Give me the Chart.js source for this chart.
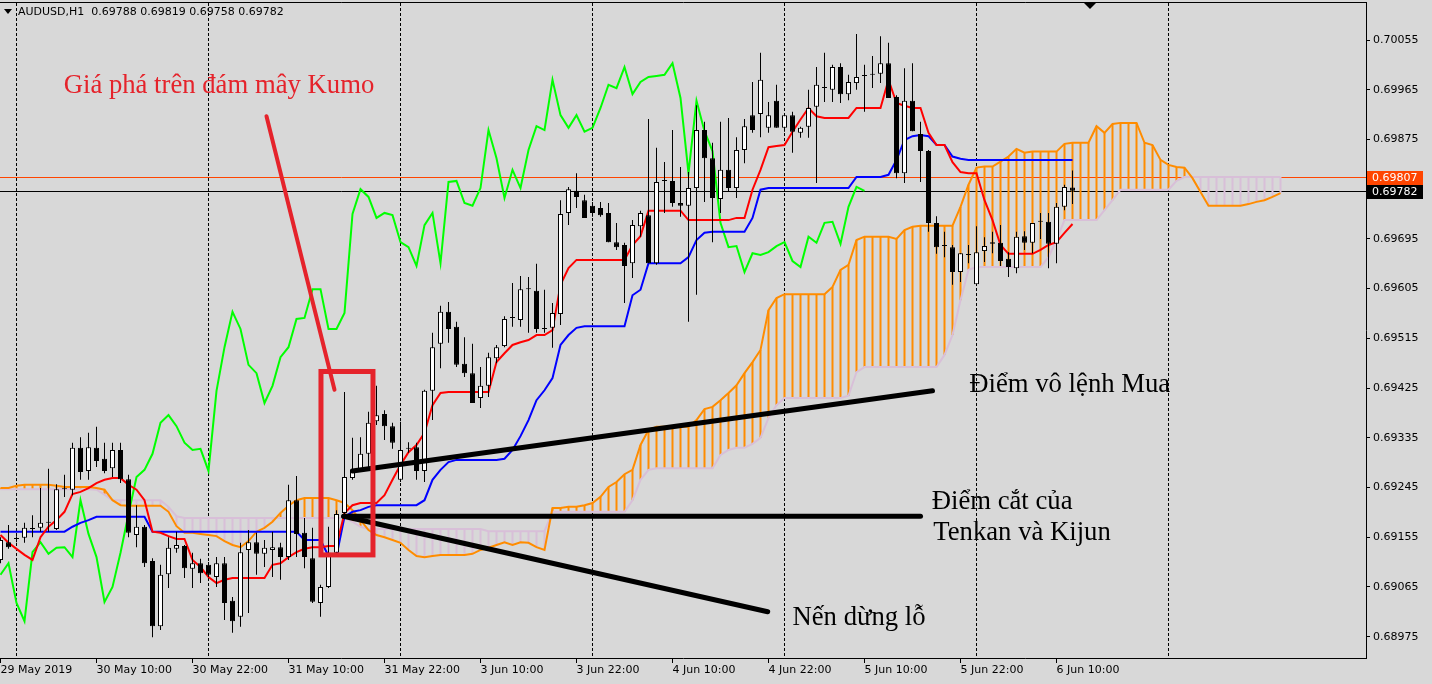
<!DOCTYPE html>
<html>
<head>
<meta charset="utf-8">
<title>AUDUSD H1 Ichimoku</title>
<script src="https://cdn.jsdelivr.net/npm/chart.js@4.4.0/dist/chart.umd.min.js"></script>
<style>
  html, body { margin: 0; padding: 0; background: #d8d8d8; overflow: hidden; }
  #c { display: block; }
</style>
</head>
<body>
<canvas id="c" width="1432" height="684"></canvas>
<script>
"use strict";

// ---- candles (H1), bar 0 = 29 May 22:00 ----
const open = [0.69114,0.69146,0.69152,0.69154,0.69170,0.69172,0.69181,0.69170,0.69242,0.69241,
  0.69317,0.69275,0.69317,0.69297,0.69280,0.69313,0.69260,0.69159,0.69174,0.69112,
  0.68994,0.69088,0.69134,0.69139,0.69098,0.69108,0.69105,0.69083,0.69108,0.69040,
  0.69011,0.69132,0.69146,0.69125,0.69132,0.69137,0.69119,0.69222,0.69163,0.69117,
  0.69036,0.69065,0.69127,0.69199,0.69262,0.69277,0.69306,0.69365,0.69378,0.69356,
  0.69259,0.69315,0.69318,0.69275,0.69420,0.69505,0.69563,0.69536,0.69469,0.69452,
  0.69407,0.69429,0.69479,0.69501,0.69552,0.69548,0.69604,0.69601,0.69532,0.69534,
  0.69559,0.69742,0.69782,0.69765,0.69755,0.69751,0.69742,0.69689,0.69684,0.69651,
  0.69718,0.69738,0.69651,0.69800,0.69800,0.69760,0.69755,0.69787,0.69892,0.69841,
  0.69767,0.69820,0.69787,0.69856,0.69919,0.69921,0.69896,0.69945,0.69896,0.69919,
  0.69887,0.69898,0.69934,0.69968,0.69965,0.70006,0.69957,0.69977,0.69990,0.69992,
  0.69994,0.70013,0.69952,0.69814,0.69945,0.69885,0.69854,0.69724,0.69682,0.69680,
  0.69635,0.69666,0.69613,0.69673,0.69686,0.69688,0.69659,0.69642,0.69700,0.69688,
  0.69726,0.69726,0.69686,0.69753,0.69788];
const high = [0.69155,0.69177,0.69157,0.69181,0.69195,0.69244,0.69279,0.69251,0.69268,0.69326,
  0.69336,0.69344,0.69355,0.69326,0.69326,0.69326,0.69268,0.69213,0.69177,0.69117,
  0.69105,0.69155,0.69165,0.69141,0.69127,0.69116,0.69110,0.69119,0.69119,0.69047,
  0.69145,0.69168,0.69163,0.69150,0.69165,0.69145,0.69250,0.69266,0.69190,0.69172,
  0.69069,0.69174,0.69204,0.69418,0.69335,0.69336,0.69382,0.69429,0.69385,0.69362,
  0.69364,0.69327,0.69326,0.69422,0.69525,0.69574,0.69581,0.69545,0.69517,0.69505,
  0.69463,0.69489,0.69503,0.69555,0.69615,0.69628,0.69626,0.69650,0.69603,0.69579,
  0.69765,0.69789,0.69814,0.69775,0.69762,0.69762,0.69760,0.69724,0.69688,0.69729,
  0.69746,0.69912,0.69860,0.69834,0.69892,0.69825,0.69816,0.69937,0.69907,0.69869,
  0.69907,0.69914,0.69879,0.69912,0.69979,0.70032,0.69943,0.69974,0.69923,0.69925,
  0.69898,0.69965,0.70006,0.70032,0.70010,0.70013,0.69992,0.70066,0.70010,0.70026,
  0.70062,0.70050,0.69955,0.70004,0.70013,0.69907,0.69856,0.69736,0.69708,0.69684,
  0.69669,0.69684,0.69718,0.69698,0.69708,0.69720,0.69671,0.69708,0.69709,0.69722,
  0.69742,0.69742,0.69760,0.69793,0.69819];
const low = [0.69108,0.69134,0.69146,0.69145,0.69155,0.69165,0.69165,0.69168,0.69228,0.69231,
  0.69259,0.69259,0.69282,0.69271,0.69264,0.69253,0.69155,0.69137,0.69101,0.68974,
  0.68987,0.69063,0.69127,0.69081,0.69063,0.69072,0.69083,0.69065,0.69005,0.68982,
  0.68993,0.69018,0.69087,0.69101,0.69083,0.69078,0.69114,0.69119,0.69099,0.69036,
  0.69011,0.69063,0.69123,0.69195,0.69259,0.69273,0.69282,0.69358,0.69331,0.69315,
  0.69255,0.69308,0.69259,0.69255,0.69367,0.69461,0.69507,0.69463,0.69445,0.69398,
  0.69389,0.69409,0.69470,0.69499,0.69536,0.69536,0.69525,0.69525,0.69525,0.69498,
  0.69539,0.69720,0.69751,0.69733,0.69735,0.69735,0.69689,0.69675,0.69579,0.69624,
  0.69699,0.69651,0.69648,0.69742,0.69753,0.69735,0.69545,0.69594,0.69762,0.69689,
  0.69742,0.69780,0.69769,0.69832,0.69887,0.69879,0.69887,0.69896,0.69889,0.69851,
  0.69878,0.69878,0.69796,0.69943,0.69943,0.69941,0.69946,0.69965,0.69925,0.69968,
  0.69977,0.69950,0.69805,0.69796,0.69890,0.69798,0.69708,0.69668,0.69662,0.69612,
  0.69617,0.69651,0.69610,0.69653,0.69669,0.69646,0.69626,0.69633,0.69675,0.69669,
  0.69695,0.69642,0.69651,0.69747,0.69758];
const close = [0.69150,0.69137,0.69152,0.69172,0.69170,0.69181,0.69181,0.69242,0.69242,0.69317,
  0.69273,0.69318,0.69293,0.69275,0.69313,0.69260,0.69163,0.69174,0.69108,0.68994,
  0.69087,0.69136,0.69141,0.69099,0.69108,0.69090,0.69087,0.69108,0.69036,0.69003,
  0.69128,0.69146,0.69125,0.69136,0.69137,0.69119,0.69222,0.69161,0.69119,0.69038,
  0.69065,0.69127,0.69197,0.69264,0.69277,0.69306,0.69362,0.69376,0.69356,0.69326,
  0.69313,0.69315,0.69275,0.69420,0.69499,0.69563,0.69532,0.69467,0.69452,0.69398,
  0.69429,0.69481,0.69499,0.69550,0.69552,0.69604,0.69604,0.69532,0.69532,0.69561,
  0.69740,0.69785,0.69771,0.69733,0.69742,0.69738,0.69689,0.69680,0.69646,0.69720,
  0.69742,0.69651,0.69798,0.69800,0.69760,0.69755,0.69787,0.69892,0.69841,0.69769,
  0.69820,0.69787,0.69856,0.69899,0.69892,0.69983,0.69919,0.69896,0.69919,0.69889,
  0.69896,0.69932,0.69974,0.69968,0.70006,0.69957,0.69979,0.69988,0.69990,0.69992,
  0.70013,0.69950,0.69814,0.69945,0.69890,0.69854,0.69724,0.69680,0.69682,0.69635,
  0.69669,0.69666,0.69671,0.69682,0.69689,0.69655,0.69644,0.69699,0.69688,0.69724,
  0.69726,0.69686,0.69753,0.69789,0.69782];

// ---- ichimoku lines ----
const tenkan = [0.69159,0.69145,0.69134,0.69123,0.69114,0.69155,0.69174,0.69186,0.69201,0.69233,
  0.69237,0.69244,0.69253,0.69259,0.69262,0.69262,0.69250,0.69241,0.69222,0.69165,
  0.69163,0.69157,0.69152,0.69152,0.69114,0.69101,0.69083,0.69072,0.69078,0.69081,
  0.69081,0.69081,0.69081,0.69081,0.69105,0.69108,0.69119,0.69128,0.69134,0.69137,
  0.69137,0.69139,0.69139,0.69199,0.69213,0.69217,0.69217,0.69217,0.69231,0.69259,
  0.69286,0.69309,0.69322,0.69344,0.69394,0.69416,0.69418,0.69418,0.69418,0.69418,
  0.69418,0.69418,0.69472,0.69488,0.69503,0.69508,0.69512,0.69521,0.69521,0.69530,
  0.69612,0.69642,0.69657,0.69657,0.69657,0.69657,0.69657,0.69657,0.69657,0.69684,
  0.69700,0.69746,0.69746,0.69746,0.69746,0.69746,0.69729,0.69729,0.69729,0.69729,
  0.69729,0.69729,0.69733,0.69733,0.69784,0.69820,0.69861,0.69863,0.69865,0.69889,
  0.69911,0.69932,0.69917,0.69914,0.69914,0.69914,0.69914,0.69932,0.69932,0.69932,
  0.69932,0.69983,0.69941,0.69936,0.69932,0.69932,0.69887,0.69865,0.69865,0.69834,
  0.69816,0.69814,0.69814,0.69765,0.69729,0.69684,0.69668,0.69668,0.69668,0.69668,
  0.69675,0.69684,0.69689,0.69706,0.69722];
const kijun = [0.69165,0.69165,0.69165,0.69165,0.69165,0.69165,0.69165,0.69165,0.69165,0.69174,
  0.69181,0.69186,0.69192,0.69192,0.69192,0.69192,0.69192,0.69192,0.69192,0.69165,
  0.69165,0.69165,0.69165,0.69165,0.69165,0.69165,0.69165,0.69165,0.69165,0.69165,
  0.69165,0.69165,0.69165,0.69165,0.69165,0.69165,0.69165,0.69165,0.69150,0.69150,
  0.69150,0.69121,0.69121,0.69192,0.69201,0.69204,0.69210,0.69213,0.69213,0.69213,
  0.69213,0.69213,0.69213,0.69222,0.69259,0.69277,0.69291,0.69295,0.69295,0.69295,
  0.69295,0.69295,0.69295,0.69297,0.69313,0.69338,0.69367,0.69403,0.69421,0.69443,
  0.69503,0.69521,0.69534,0.69537,0.69537,0.69537,0.69537,0.69537,0.69537,0.69593,
  0.69603,0.69651,0.69651,0.69651,0.69651,0.69651,0.69662,0.69693,0.69706,0.69708,
  0.69708,0.69708,0.69708,0.69708,0.69733,0.69784,0.69787,0.69787,0.69787,0.69787,
  0.69787,0.69787,0.69787,0.69787,0.69787,0.69787,0.69787,0.69807,0.69807,0.69807,
  0.69807,0.69811,0.69838,0.69874,0.69881,0.69883,0.69881,0.69865,0.69865,0.69844,
  0.69840,0.69838,0.69838,0.69838,0.69838,0.69838,0.69838,0.69838,0.69838,0.69838,
  0.69838,0.69838,0.69838,0.69838,0.69838];
// senkou spans, already shifted 26 bars forward (bar 0 .. 160)
const senkouA = [0.69244,0.69244,0.69248,0.69250,0.69250,0.69250,0.69250,0.69248,0.69246,0.69246,
  0.69246,0.69246,0.69244,0.69241,0.69222,0.69213,0.69212,0.69212,0.69212,0.69212,
  0.69212,0.69201,0.69175,0.69163,0.69163,0.69161,0.69159,0.69157,0.69148,0.69141,
  0.69137,0.69148,0.69165,0.69172,0.69183,0.69199,0.69212,0.69222,0.69226,0.69226,
  0.69226,0.69226,0.69222,0.69217,0.69204,0.69186,0.69168,0.69159,0.69155,0.69150,
  0.69145,0.69132,0.69121,0.69119,0.69121,0.69123,0.69123,0.69123,0.69123,0.69125,
  0.69132,0.69136,0.69141,0.69146,0.69141,0.69146,0.69145,0.69137,0.69132,0.69208,
  0.69208,0.69210,0.69210,0.69213,0.69217,0.69228,0.69246,0.69255,0.69269,0.69277,
  0.69322,0.69349,0.69355,0.69355,0.69355,0.69355,0.69355,0.69367,0.69387,0.69391,
  0.69403,0.69416,0.69430,0.69452,0.69472,0.69494,0.69566,0.69588,0.69595,0.69595,
  0.69595,0.69595,0.69595,0.69595,0.69608,0.69639,0.69648,0.69693,0.69699,0.69699,
  0.69699,0.69699,0.69695,0.69711,0.69717,0.69719,0.69719,0.69719,0.69719,0.69719,
  0.69753,0.69793,0.69824,0.69826,0.69826,0.69835,0.69844,0.69858,0.69851,0.69853,
  0.69853,0.69853,0.69853,0.69867,0.69869,0.69869,0.69869,0.69899,0.69887,0.69903,
  0.69905,0.69905,0.69905,0.69869,0.69865,0.69838,0.69829,0.69825,0.69824,0.69805,
  0.69780,0.69755,0.69755,0.69755,0.69755,0.69755,0.69758,0.69762,0.69765,0.69771,
  0.69778];
const senkouB = [0.69242,0.69242,0.69242,0.69242,0.69242,0.69242,0.69242,0.69242,0.69242,0.69242,
  0.69242,0.69242,0.69241,0.69232,0.69222,0.69222,0.69222,0.69222,0.69222,0.69222,
  0.69222,0.69210,0.69193,0.69190,0.69190,0.69190,0.69190,0.69190,0.69190,0.69190,
  0.69190,0.69190,0.69190,0.69190,0.69190,0.69190,0.69190,0.69190,0.69190,0.69190,
  0.69190,0.69190,0.69190,0.69190,0.69183,0.69174,0.69170,0.69170,0.69170,0.69170,
  0.69170,0.69170,0.69170,0.69170,0.69170,0.69170,0.69170,0.69170,0.69170,0.69170,
  0.69170,0.69166,0.69166,0.69166,0.69166,0.69166,0.69166,0.69166,0.69166,0.69201,
  0.69201,0.69201,0.69201,0.69201,0.69201,0.69201,0.69201,0.69201,0.69201,0.69222,
  0.69259,0.69277,0.69280,0.69280,0.69280,0.69280,0.69280,0.69280,0.69280,0.69280,
  0.69304,0.69313,0.69317,0.69317,0.69324,0.69335,0.69371,0.69394,0.69407,0.69407,
  0.69407,0.69407,0.69407,0.69407,0.69407,0.69407,0.69411,0.69454,0.69463,0.69463,
  0.69463,0.69463,0.69463,0.69463,0.69463,0.69463,0.69463,0.69463,0.69485,0.69521,
  0.69584,0.69639,0.69644,0.69644,0.69644,0.69644,0.69644,0.69644,0.69644,0.69644,
  0.69644,0.69662,0.69693,0.69729,0.69729,0.69729,0.69729,0.69729,0.69747,0.69765,
  0.69784,0.69784,0.69784,0.69784,0.69784,0.69784,0.69784,0.69800,0.69807,0.69807,
  0.69807,0.69807,0.69807,0.69807,0.69807,0.69807,0.69807,0.69807,0.69807,0.69807,
  0.69807];
// chikou = close drawn 26 bars back
const chikou = close.slice(26);

// ---- axes ----
const xTickBars = [0, 12, 24, 36, 48, 60, 72, 84, 96, 108, 120, 132];
const xTickLabels = ['29 May 2019', '30 May 10:00', '30 May 22:00', '31 May 10:00', '31 May 22:00',
  '3 Jun 10:00', '3 Jun 22:00', '4 Jun 10:00', '4 Jun 22:00', '5 Jun 10:00', '5 Jun 22:00', '6 Jun 10:00'];
const gridBars = [2, 26, 50, 74, 98, 122, 146];
const yTicks = [0.68975, 0.69065, 0.69155, 0.69245, 0.69335, 0.69425, 0.69515,
  0.69605, 0.69695, 0.69785, 0.69875, 0.69965, 0.70055];
const priceLine = 0.69807;

// ---- drawn objects, in (bar, price) ----
const notes = [
  {text: 'Giá phá trên đám mây Kumo', bar: 7.9, price: 0.69959, color: '#e5232b'},
  {text: 'Điểm vô lệnh Mua', bar: 121.1, price: 0.69418, color: '#000'},
  {text: 'Điểm cắt của', bar: 116.4, price: 0.69206, color: '#000'},
  {text: 'Tenkan và Kijun', bar: 116.6, price: 0.69150, color: '#000'},
  {text: 'Nến dừng lỗ', bar: 99, price: 0.68996, color: '#000'}
];
const trendLines = [
  {from: [33.25, 0.69917], to: [41.75, 0.69422], color: '#e5232b', width: 4},
  {from: [44, 0.69275], to: [116.5, 0.69420], color: '#000', width: 5},
  {from: [42.9, 0.69193], to: [115, 0.69193], color: '#000', width: 5},
  {from: [42.9, 0.69193], to: [95.9, 0.69020], color: '#000', width: 5}
];
const rects = [{bar0: 40.06, bar1: 46.56, top: 0.69455, bottom: 0.69123, color: '#e5232b', width: 5}];

const BG = '#d8d8d8';
const ORANGE = '#ff8c00';
const THISTLE = '#d8bfd8';
const BAR_PX = 8;
const xMin = -0.5 / BAR_PX;
const xMax = xMin + 1366 / BAR_PX;
const yMin = 0.689364, yMax = 0.701238;
const mtFont = {family: 'DejaVu Sans', size: 11};

const bars = open.map((_, i) => i);
const line = (arr) => arr.map((v, i) => ({x: i, y: v}));

function fmt(v) { return v.toFixed(5); }

const overlay = {
  id: 'overlay',
  beforeDraw(chart) {
    const ctx = chart.ctx;
    ctx.save();
    ctx.fillStyle = BG;
    ctx.fillRect(0, 0, chart.width, chart.height);
    ctx.restore();
  },
  beforeDatasetsDraw(chart) {
    const {ctx, chartArea: a, scales: {y}} = chart;
    ctx.save();
    [[priceLine, '#ff4500'], [close[close.length - 1], '#000']].forEach(([v, c]) => {
      const py = Math.round(y.getPixelForValue(v)) + 0.5;
      ctx.strokeStyle = c;
      ctx.lineWidth = 1;
      ctx.beginPath();
      ctx.moveTo(a.left, py);
      ctx.lineTo(a.right, py);
      ctx.stroke();
    });
    ctx.restore();
  },
  afterDatasetsDraw(chart) {
    const {ctx, chartArea: a, scales: {x, y}} = chart;
    ctx.save();
    ctx.beginPath();
    ctx.rect(a.left, a.top, a.right - a.left, a.bottom - a.top);
    ctx.clip();
    ctx.lineCap = 'round';
    trendLines.forEach(t => {
      ctx.strokeStyle = t.color;
      ctx.lineWidth = t.width;
      ctx.beginPath();
      ctx.moveTo(x.getPixelForValue(t.from[0]), y.getPixelForValue(t.from[1]));
      ctx.lineTo(x.getPixelForValue(t.to[0]), y.getPixelForValue(t.to[1]));
      ctx.stroke();
    });
    rects.forEach(r => {
      const x0 = x.getPixelForValue(r.bar0), x1 = x.getPixelForValue(r.bar1);
      const y0 = y.getPixelForValue(r.top), y1 = y.getPixelForValue(r.bottom);
      ctx.strokeStyle = r.color;
      ctx.lineWidth = r.width;
      ctx.lineCap = 'butt';
      ctx.strokeRect(x0, y0, x1 - x0, y1 - y0);
    });
    ctx.font = '26.7px "Liberation Serif", "Times New Roman", serif';
    ctx.textBaseline = 'alphabetic';
    ctx.textAlign = 'left';
    notes.forEach(n => {
      ctx.fillStyle = n.color;
      ctx.fillText(n.text, x.getPixelForValue(n.bar), y.getPixelForValue(n.price));
    });
    ctx.restore();
  },
  afterDraw(chart) {
    const {ctx, chartArea: a, scales: {y}} = chart;
    const last = close.length - 1;
    ctx.save();
    // price tags on the right axis
    ctx.font = '11px "DejaVu Sans"';
    ctx.textBaseline = 'middle';
    [[priceLine, '#ff4500'], [close[last], '#000']].forEach(([v, c]) => {
      const py = Math.round(y.getPixelForValue(v));
      ctx.fillStyle = c;
      ctx.fillRect(a.right + 1, py - 6, 56, 14);
      ctx.fillStyle = '#fff';
      ctx.fillText(fmt(v), a.right + 6, py + 1);
    });
    // header
    ctx.fillStyle = '#000';
    ctx.beginPath();
    ctx.moveTo(4, 9); ctx.lineTo(12, 9); ctx.lineTo(8, 14); ctx.closePath();
    ctx.fill();
    ctx.textBaseline = 'middle';
    ctx.fillText('AUDUSD,H1  ' + [open[last], high[last], low[last], close[last]].map(fmt).join(' '), 18, 12);
    // chart shift marker
    ctx.beginPath();
    ctx.moveTo(1084, 3); ctx.lineTo(1096, 3); ctx.lineTo(1090, 9); ctx.closePath();
    ctx.fill();
    ctx.restore();
  }
};

function noPad(s) { s.paddingLeft = 0; s.paddingRight = 0; s.paddingTop = 0; s.paddingBottom = 0; }

new Chart(document.getElementById('c'), {
  type: 'bar',
  data: {
    datasets: [
      {
        type: 'bar', label: 'kumo', order: 7, grouped: false,
        data: senkouA.map((v, i) => ({x: i, y: [senkouB[i], v]})),
        backgroundColor: c => senkouA[c.dataIndex] >= senkouB[c.dataIndex] ? ORANGE : THISTLE,
        barThickness: 2, borderWidth: 0, inflateAmount: 0
      },
      {type: 'line', label: 'Senkou B', order: 6, data: line(senkouB), borderColor: THISTLE, borderWidth: 2, pointRadius: 0, tension: 0},
      {type: 'line', label: 'Senkou A', order: 5, data: line(senkouA), borderColor: ORANGE, borderWidth: 2, pointRadius: 0, tension: 0},
      {type: 'line', label: 'Chikou', order: 4, data: line(chikou), borderColor: '#00ff00', borderWidth: 2, pointRadius: 0, tension: 0},
      {type: 'line', label: 'Kijun', order: 3, data: line(kijun), borderColor: '#0000ff', borderWidth: 2, pointRadius: 0, tension: 0},
      {type: 'line', label: 'Tenkan', order: 2, data: line(tenkan), borderColor: '#ff0000', borderWidth: 2, pointRadius: 0, tension: 0},
      {
        type: 'bar', label: 'wicks', order: 1, grouped: false,
        data: bars.map(i => ({x: i, y: [low[i], high[i]]})),
        backgroundColor: '#000', barThickness: 1, borderWidth: 0, inflateAmount: 0
      },
      {
        type: 'bar', label: 'bodies', order: 0, grouped: false,
        data: bars.map(i => ({x: i, y: [open[i], close[i]]})),
        backgroundColor: c => close[c.dataIndex] >= open[c.dataIndex] ? '#fff' : '#000',
        borderColor: '#000', borderWidth: 1, borderSkipped: false,
        barThickness: 5, minBarLength: 1, inflateAmount: 0
      }
    ]
  },
  options: {
    responsive: false,
    devicePixelRatio: 1,
    animation: false,
    events: [],
    layout: {padding: {top: 2, left: 0, right: 0, bottom: 0}},
    plugins: {legend: {display: false}, tooltip: {enabled: false}},
    scales: {
      x: {
        type: 'linear', position: 'bottom', min: xMin, max: xMax, offset: false,
        afterBuildTicks: s => { s.ticks = xTickBars.map(v => ({value: v})); },
        afterFit: s => { s.height = 26; noPad(s); },
        ticks: {
          autoSkip: false, maxRotation: 0, align: 'start', padding: 1, color: '#000', font: mtFont,
          callback: v => xTickLabels[xTickBars.indexOf(v)] || ''
        },
        grid: {offset: false, drawOnChartArea: false, drawTicks: true, tickLength: 5, color: '#000'},
        border: {display: true, color: '#000', width: 1}
      },
      xg: {
        type: 'linear', position: 'top', min: xMin, max: xMax, offset: false,
        afterBuildTicks: s => { s.ticks = gridBars.map(v => ({value: v})); },
        afterFit: s => { s.height = 0; noPad(s); },
        ticks: {display: false},
        grid: {offset: false, drawOnChartArea: true, drawTicks: false, color: '#000', lineWidth: 1},
        border: {display: true, color: '#000', width: 1, dash: [3, 2]}
      },
      y: {
        type: 'linear', position: 'right', min: yMin, max: yMax,
        afterBuildTicks: s => { s.ticks = yTicks.map(v => ({value: v})); },
        afterFit: s => { s.width = 66; noPad(s); },
        ticks: {color: '#000', font: mtFont, padding: 3, callback: v => fmt(v)},
        grid: {drawOnChartArea: false, drawTicks: true, tickLength: 4, color: '#000'},
        border: {display: true, color: '#000', width: 1}
      }
    }
  },
  plugins: [overlay]
});
</script>
</body>
</html>
